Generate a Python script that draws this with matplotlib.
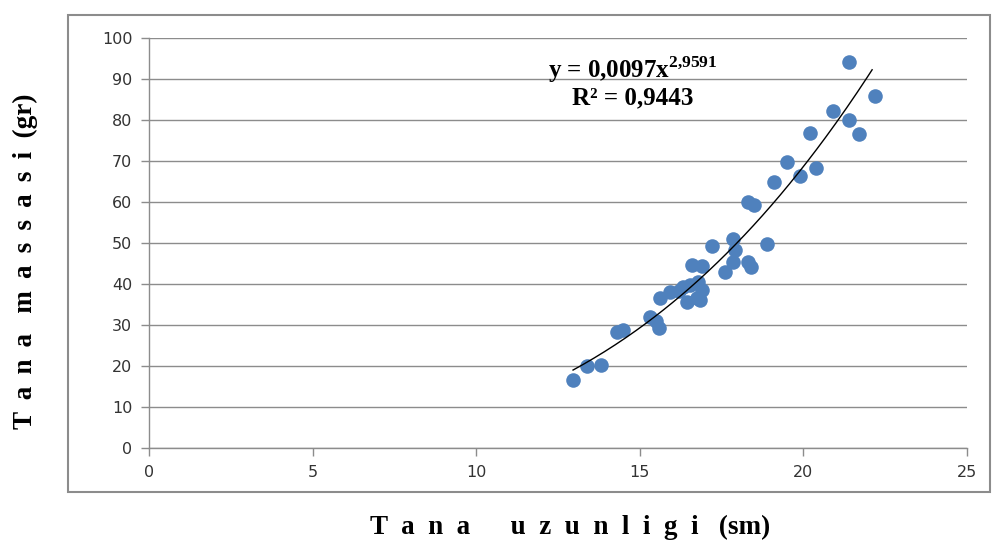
import numpy as np
import matplotlib
matplotlib.use("Agg")
import matplotlib.pyplot as plt
from matplotlib.patches import Rectangle

plt.rcParams["mathtext.fontset"] = "custom"
plt.rcParams["mathtext.rm"] = "Liberation Serif"
plt.rcParams["mathtext.bf"] = "Liberation Serif:bold"

# body length (sm) and body mass (gr)
length = [12.96, 13.4, 13.8, 14.3, 14.5, 15.3, 15.5, 15.6, 15.62, 15.92,
          16.2, 16.32, 16.44, 16.53, 16.6, 16.75, 16.78, 16.84, 16.9, 16.9,
          17.2, 17.6, 17.85, 17.9, 17.85, 18.3, 18.4, 18.3, 18.5, 18.9,
          19.1, 19.5, 19.9, 20.2, 20.4, 20.9, 21.4, 21.4, 21.7, 22.2]
mass = [16.6, 20.0, 20.2, 28.3, 28.7, 32.0, 31.0, 29.3, 36.6, 38.0,
        38.3, 39.3, 35.6, 39.8, 44.6, 36.6, 40.5, 36.1, 38.5, 44.4,
        49.2, 43.0, 51.0, 48.2, 45.4, 45.4, 44.2, 60.0, 59.3, 49.8,
        65.0, 69.8, 66.3, 76.8, 68.3, 82.2, 80.0, 94.1, 76.6, 85.9]

fit_a = 0.0097
fit_b = 2.9591
r2 = 0.9443

xticks = [0, 5, 10, 15, 20, 25]
yticks = list(range(0, 101, 10))

W, H = 997, 548
fig = plt.figure(figsize=(W / 100, H / 100), dpi=100)
ax = fig.add_axes([149 / W, 1 - 448 / H, 818 / W, 410 / H])

grid_col = "#8c8c8c"
ax.set_xlim(0, 25)
ax.set_ylim(0, 100)
ax.set_xticks(xticks)
ax.set_yticks(yticks)
ax.yaxis.grid(True, color=grid_col, lw=1)
ax.set_axisbelow(True)
for s in ["top", "right"]:
    ax.spines[s].set_visible(False)
for s in ["left", "bottom"]:
    ax.spines[s].set_color(grid_col)
    ax.spines[s].set_linewidth(1)
ax.tick_params(direction="out", length=6, width=1, color=grid_col,
               labelsize=11.5, labelcolor="#333333", pad=6)

ax.scatter(length, mass, s=110, color="#4f81bd", zorder=3, linewidths=0)

xs = np.linspace(min(length), max(length) - 0.1, 200)
ax.plot(xs, fit_a * xs ** fit_b, color="black", lw=1, zorder=4)

serif = "Liberation Serif"
fig.text(633 / W, 1 - 70 / H, r"y = 0,0097x$^{\mathbf{2{,}9591}}$",
         fontsize=18, fontweight="bold", family=serif, ha="center", va="center")
fig.text(633 / W, 1 - 98 / H, "R² = 0,%s" % str(r2).split(".")[1],
         fontsize=18, fontweight="bold", family=serif, ha="center", va="center")

def spaced(words, gap, word_gap):
    return word_gap.join(gap.join(w) for w in words)

xlab = spaced(["Tana", "uzunligi"], "  ", "      ") + "   (sm)"
ylab = spaced(["Tana", "massasi"], " \u2009", "   ") + "  (gr)"

fig.text(570 / W, 1 - 527 / H, xlab,
         fontsize=19.5, fontweight="bold", family=serif, ha="center", va="center")
fig.text(25 / W, 1 - 261 / H, ylab,
         fontsize=19.5, fontweight="bold", family=serif, ha="center", va="center",
         rotation=90)

fig.patches.append(Rectangle((68 / W, 1 - 492 / H), 922 / W, 477 / H,
                             transform=fig.transFigure, fill=False,
                             edgecolor="#8c8c8c", lw=1.5))

fig.savefig("out.png", dpi=100)
